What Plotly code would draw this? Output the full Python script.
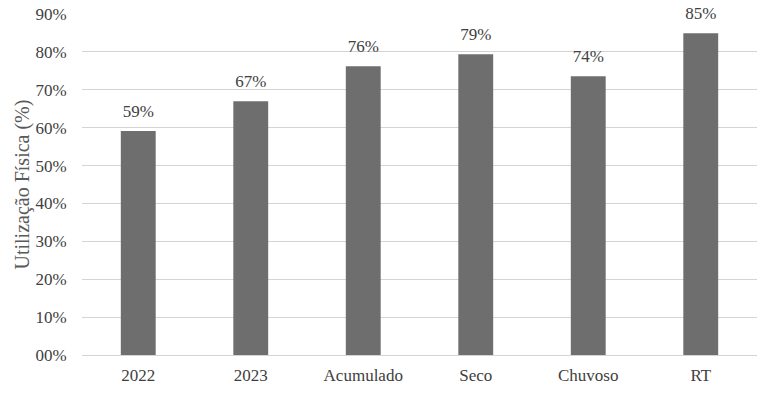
import plotly.graph_objects as go

categories = ["2022", "2023", "Acumulado", "Seco", "Chuvoso", "RT"]
values = [59.1, 67.0, 76.2, 79.4, 73.6, 84.9]
tick_vals = [0, 10, 20, 30, 40, 50, 60, 70, 80, 90]
tick_text = ["00%", "10%", "20%", "30%", "40%", "50%", "60%", "70%", "80%", "90%"]
y_title = "Utilização Física (%)"

fam = "Liberation Serif, Times New Roman, serif"
font = dict(family=fam, size=17, color="#404040")

# page has an 8px body margin; compensate
L, R, T, B = 74, 18, 6, 48
W, H = 767, 395

fig = go.Figure()
fig.add_trace(go.Bar(
    x=categories, y=values,
    marker=dict(color="#6e6e6e", line=dict(width=0)),
))
fig.add_trace(go.Scatter(
    x=categories, y=values, mode="markers+text",
    marker=dict(size=14, opacity=0, color="white"),
    text=[f"{v:.0f}%" for v in values], textposition="top center",
    textfont=dict(family=fam, size=17, color="#404040"),
    cliponaxis=False, hoverinfo="skip",
))
fig.update_layout(
    width=W, height=H,
    margin=dict(l=L, r=R, t=T, b=B, autoexpand=False),
    paper_bgcolor="white", plot_bgcolor="white",
    font=font, bargap=0.69, showlegend=False,
)
fig.update_yaxes(range=[0, 90], tickvals=tick_vals, ticktext=tick_text,
                 automargin=False, ticklabeloverflow="allow",
                 showgrid=True, gridcolor="#d4d4d4", gridwidth=1,
                 zeroline=True, zerolinecolor="#d4d4d4", zerolinewidth=1,
                 ticks="outside", ticklen=11, tickcolor="rgba(0,0,0,0)")
fig.update_xaxes(type="category", categoryarray=categories, categoryorder="array",
                 showgrid=False, showline=False,
                 ticks="outside", ticklen=5,
                 automargin=False, tickcolor="rgba(0,0,0,0)")
fig.add_annotation(text=y_title, xref="paper", yref="paper",
                   x=-(L - 14) / (W - L - R), y=0.5, textangle=-90,
                   showarrow=False, xanchor="center", yanchor="middle",
                   font=dict(family=fam, size=20, color="#595959"))
fig.write_html("out.html")
